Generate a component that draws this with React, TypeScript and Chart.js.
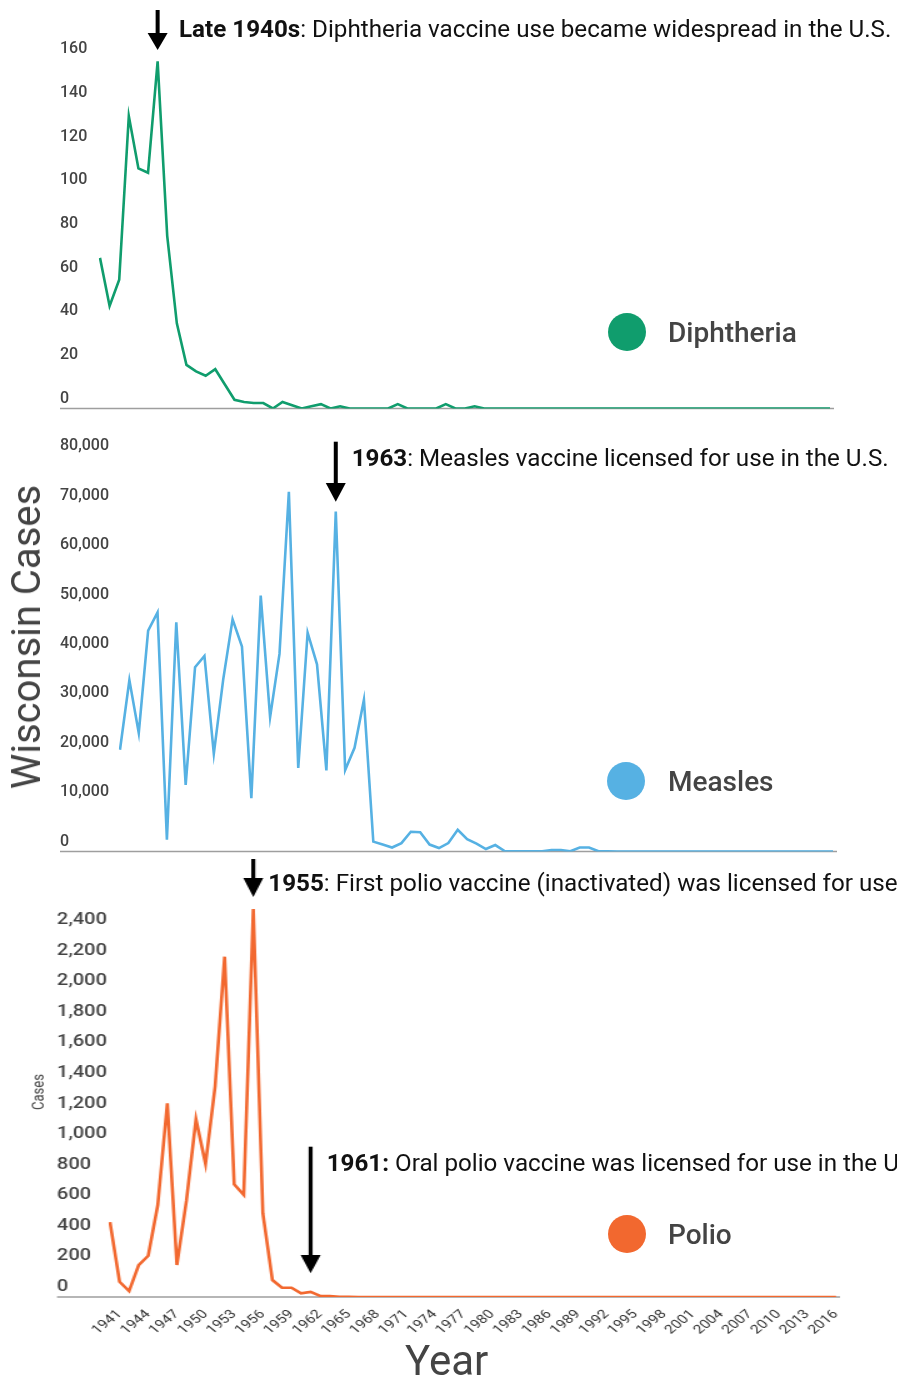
import React, { useEffect, useRef } from 'react';
import { Chart, registerables } from 'chart.js';

Chart.register(...registerables);
Chart.defaults.font.family = 'Roboto, sans-serif';

const years = [
  1940, 1941, 1942, 1943, 1944, 1945, 1946, 1947, 1948, 1949,
  1950, 1951, 1952, 1953, 1954, 1955, 1956, 1957, 1958, 1959,
  1960, 1961, 1962, 1963, 1964, 1965, 1966, 1967, 1968, 1969,
  1970, 1971, 1972, 1973, 1974, 1975, 1976, 1977, 1978, 1979,
  1980, 1981, 1982, 1983, 1984, 1985, 1986, 1987, 1988, 1989,
  1990, 1991, 1992, 1993, 1994, 1995, 1996, 1997, 1998, 1999,
  2000, 2001, 2002, 2003, 2004, 2005, 2006, 2007, 2008, 2009,
  2010, 2011, 2012, 2013, 2014, 2015, 2016,
];

const diphtheriaCases = [
  69, 47, 59, 134, 110, 108, 159, 79, 39, 20,
  17, 15, 18, 11, 4, 3, 2.5, 2.5, 0, 3,
  1.5, 0, 1, 2, 0, 1, 0, 0, 0, 0,
  0, 2, 0, 0, 0, 0, 2, 0, 0, 1,
  0, 0, 0, 0, 0, 0, 0, 0, 0, 0,
  0, 0, 0, 0, 0, 0, 0, 0, 0, 0,
  0, 0, 0, 0, 0, 0, 0, 0, 0, 0,
  0, 0, 0, 0, 0, 0, 0,
];

const measlesCases = [
  20600, 34700, 24000, 44700, 48400, 2400, 46400, 13500, 37300, 39600,
  19800, 34800, 47000, 41500, 10800, 51800, 27200, 40000, 72800, 16900,
  44300, 37900, 16400, 68800, 16500, 21000, 30700, 2000, 1400, 800,
  1700, 4000, 3900, 1400, 700, 1700, 4400, 2500, 1600, 500,
  1300, 100, 30, 20, 20, 50, 300, 300, 50, 800,
  800, 50, 20, 10, 10, 10, 10, 5, 5, 5,
  5, 5, 5, 5, 5, 5, 5, 5, 5, 5,
  5, 5, 5, 5, 5, 5, 5,
];

const polioCases = [
  490, 100, 39, 209, 270, 602, 1268, 209, 630, 1163,
  870, 1376, 2227, 737, 668, 2539, 548, 111, 61, 61,
  24, 33, 7, 7, 2, 1, 0, 0, 0, 0,
  0, 0, 0, 0, 0, 0, 0, 0, 0, 0,
  0, 0, 0, 0, 0, 0, 0, 0, 0, 0,
  0, 0, 0, 0, 0, 0, 0, 0, 0, 0,
  0, 0, 0, 0, 0, 0, 0, 0, 0, 0,
  0, 0, 0, 0, 0, 0, 0,
];

const xTickYears = [
  1941, 1944, 1947, 1950, 1953, 1956, 1959, 1962, 1965, 1968, 1971, 1974, 1977,
  1980, 1983, 1986, 1989, 1992, 1995, 1998, 2001, 2004, 2007, 2010, 2013, 2016,
];
const diphtheriaYTicks = [0, 20, 40, 60, 80, 100, 120, 140, 160];
const measlesYTicks = [0, 10000, 20000, 30000, 40000, 50000, 60000, 70000, 80000];
const polioYTicks = [0, 200, 400, 600, 800, 1000, 1200, 1400, 1600, 1800, 2000, 2200, 2400];

const W = 897;
const H = 1376;

type Arrow = { year: number; top: number; head: number; tip: number };
type Panel = {
  top: number; height: number; data: number[]; color: string; sx: number;
  chartLeft: number; chartRight: number; labelX: number;
  padTop: number; padBottom: number; yMax: number; yTicks: number[];
  showX: boolean; arrows: Arrow[];
};

const panels: Panel[] = [
  {
    top: 0, height: 420, data: diphtheriaCases, color: '#109D6D', sx: 1,
    chartLeft: 100, chartRight: 830, labelX: 60, padTop: 37.4, padBottom: 11.5,
    yMax: 170, yTicks: diphtheriaYTicks, showX: false,
    arrows: [{ year: 1946, top: 10, head: 33, tip: 50 }],
  },
  {
    top: 425, height: 440, data: measlesCases, color: '#56B1E3', sx: 1,
    chartLeft: 120, chartRight: 833, labelX: 60, padTop: 6.6, padBottom: 13.5,
    yMax: 85000, yTicks: measlesYTicks, showX: false,
    arrows: [{ year: 1963, top: 16.7, head: 58, tip: 76.7 }],
  },
  {
    top: 855, height: 521, data: polioCases, color: '#F2682F', sx: 1.25,
    chartLeft: 110, chartRight: 836, labelX: 57, padTop: 46.2, padBottom: 0,
    yMax: 2590, yTicks: polioYTicks, showX: true,
    arrows: [
      { year: 1955, top: 4, head: 23, tip: 42 },
      { year: 1961, top: 291.7, head: 400, tip: 418.3 },
    ],
  },
];

function overlayPlugin(p: Panel) {
  return {
    id: 'overlay',
    beforeDatasetsDraw(chart: any) {
      const { ctx, chartArea, scales } = chart;
      const y0 = scales.y.getPixelForValue(0);
      ctx.save();
      ctx.strokeStyle = '#9e9e9e';
      ctx.lineWidth = 1.5;
      ctx.beginPath();
      ctx.moveTo(p.labelX / p.sx, y0);
      ctx.lineTo(chartArea.right + 4 / p.sx, y0);
      ctx.stroke();
      ctx.restore();
    },
    afterDraw(chart: any) {
      const { ctx, scales } = chart;
      const shaft = 2 / p.sx;
      const half = 10 / p.sx;
      ctx.save();
      ctx.fillStyle = '#000';
      for (const a of p.arrows) {
        const px = scales.x.getPixelForValue(years.indexOf(a.year));
        ctx.fillRect(px - shaft, a.top, shaft * 2, a.head - a.top + 1);
        ctx.beginPath();
        ctx.moveTo(px - half, a.head);
        ctx.lineTo(px + half, a.head);
        ctx.lineTo(px, a.tip);
        ctx.closePath();
        ctx.fill();
      }
      ctx.restore();
    },
  };
}

function PanelChart({ p }: { p: Panel }) {
  const ref = useRef<HTMLCanvasElement>(null);
  const cw = Math.round(W / p.sx);
  useEffect(() => {
    const chart = new Chart(ref.current as HTMLCanvasElement, {
      type: 'line',
      data: {
        labels: years.map(String),
        datasets: [{
          data: p.data, borderColor: p.color, borderWidth: 2.6,
          pointRadius: 0, fill: false, tension: 0,
        }],
      },
      options: {
        responsive: false,
        animation: false,
        events: [],
        layout: { padding: { left: 0, right: cw - p.chartRight / p.sx, top: p.padTop, bottom: p.padBottom } },
        plugins: { legend: { display: false }, tooltip: { enabled: false } },
        scales: {
          x: {
            type: 'category',
            display: p.showX,
            offset: false,
            grid: { display: false, drawTicks: false },
            border: { display: false },
            afterFit: (s: any) => { if (p.showX) s.height = 79; },
            ticks: {
              autoSkip: false, minRotation: 45, maxRotation: 45, padding: 10,
              color: '#333', font: { size: 12.5 },
              callback: (_v: any, i: number) => (xTickYears.includes(years[i]) ? String(years[i]) : ''),
            },
          },
          y: {
            min: 0, max: p.yMax,
            grid: { display: false, drawTicks: false },
            border: { display: false },
            afterBuildTicks: (s: any) => { s.ticks = p.yTicks.map((v) => ({ value: v })); },
            afterFit: (s: any) => { s.width = p.chartLeft / p.sx; },
            ticks: {
              mirror: true, crossAlign: 'near', padding: (p.labelX - p.chartLeft) / p.sx,
              labelOffset: -10, color: '#444', font: { size: 16, weight: '500' },
              callback: (v: any) => Number(v).toLocaleString('en-US'),
            },
          },
        },
      } as any,
      plugins: [overlayPlugin(p)],
    });
    return () => chart.destroy();
  }, []);
  return (
    <canvas ref={ref} width={cw} height={p.height}
      style={{
        position: 'absolute', left: 0, top: p.top, width: cw, height: p.height,
        transform: `scaleX(${p.sx})`, transformOrigin: '0 0',
      }} />
  );
}

const txt: React.CSSProperties = {
  position: 'absolute', whiteSpace: 'nowrap', lineHeight: 1, fontFamily: 'Roboto, sans-serif',
};

function Legend({ cx, cy, color, label }: { cx: number; cy: number; color: string; label: string }) {
  return (
    <>
      <div style={{ position: 'absolute', left: cx - 19, top: cy - 19, width: 38, height: 38, borderRadius: '50%', background: color }} />
      <div style={{ ...txt, left: 668, top: cy + 11 - 23.6, fontSize: 28, fontWeight: 500, color: '#444' }}>{label}</div>
    </>
  );
}

const note: React.CSSProperties = { ...txt, fontSize: 24.2, color: '#111' };

export default function App() {
  return (
    <div style={{ position: 'absolute', left: 0, top: 0, width: W, height: H, overflow: 'hidden', background: '#fff' }}>
      {panels.map((p, i) => <PanelChart key={i} p={p} />)}

      <div style={{ ...note, left: 179, top: 16.9 }}>
        <b>Late 1940s</b>: Diphtheria vaccine use became widespread in the U.S.
      </div>
      <div style={{ ...note, left: 351.7, top: 446.3 }}>
        <b>1963</b>: Measles vaccine licensed for use in the U.S.
      </div>
      <div style={{ ...note, left: 268.3, top: 871.3 }}>
        <b>1955</b>: First polio vaccine (inactivated) was licensed for use in the U.S.
      </div>
      <div style={{ ...note, left: 326.7, top: 1151.3 }}>
        <b>1961:</b> Oral polio vaccine was licensed for use in the U.S.
      </div>

      <Legend cx={627} cy={332} color="#109D6D" label="Diphtheria" />
      <Legend cx={626} cy={781} color="#56B1E3" label="Measles" />
      <Legend cx={627} cy={1234} color="#F2682F" label="Polio" />

      <div style={{ ...txt, left: 27, top: 637, fontSize: 40, color: '#444', transform: 'translate(-50%, -50%) rotate(-90deg)' }}>
        Wisconsin Cases
      </div>
      <div style={{ ...txt, left: 37.5, top: 1092, fontSize: 13, color: '#444', transform: 'translate(-50%, -50%) scaleX(1.25) rotate(-90deg)' }}>
        Cases
      </div>
      <div style={{ ...txt, left: 405, top: 1339.7, fontSize: 42, color: '#444' }}>Year</div>
    </div>
  );
}
